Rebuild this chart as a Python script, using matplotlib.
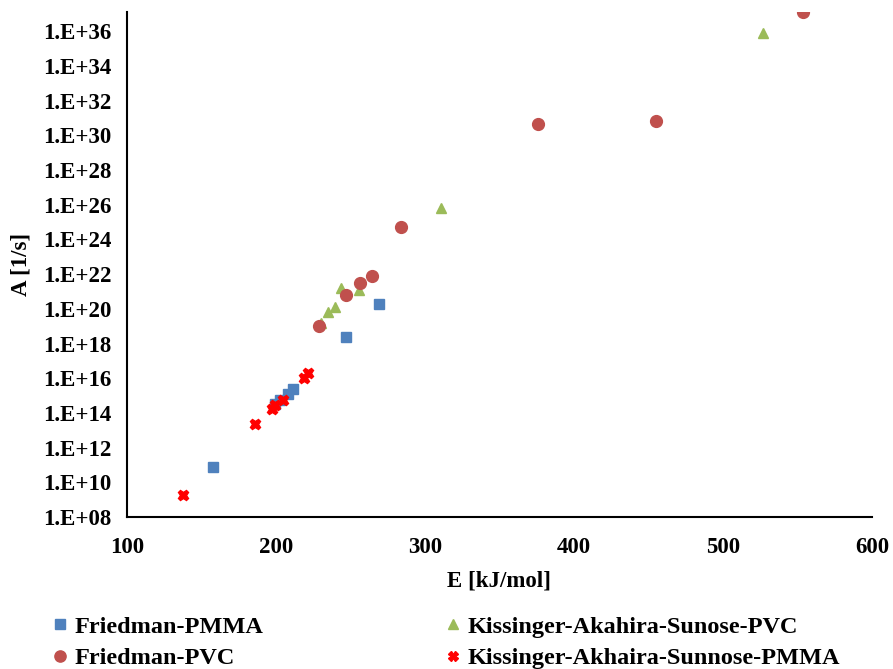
import matplotlib
matplotlib.use("Agg")
import matplotlib.pyplot as plt
from matplotlib.ticker import FixedLocator, FuncFormatter
import numpy as np

# Friedman-PMMA
fr_pmma_E = [157.7, 199.3, 202.7, 208.3, 211.6, 247.4, 269.1]
fr_pmma_logA = [10.87, 14.54, 14.77, 15.10, 15.40, 18.40, 20.30]

# Friedman-PVC
fr_pvc_E = [229.0, 246.8, 256.4, 264.2, 283.9, 375.8, 455.0, 553.7]
fr_pvc_logA = [19.0, 20.8, 21.5, 21.9, 24.7, 30.66, 30.83, 37.09]

# Kissinger-Akahira-Sunose-PVC
kas_pvc_E = [230.6, 235.1, 240.0, 243.6, 255.7, 310.7, 526.8]
kas_pvc_logA = [19.2, 19.8, 20.1, 21.2, 21.1, 25.8, 35.9]

# Kissinger-Akhaira-Sunnose-PMMA
kas_pmma_E = [137.6, 185.9, 197.1, 199.3, 204.5, 218.8, 221.7]
kas_pmma_logA = [9.26, 13.34, 14.25, 14.45, 14.77, 16.0, 16.3]

plt.rcParams['font.family'] = ['Liberation Serif', 'DejaVu Serif']
plt.rcParams['font.weight'] = 'bold'

fig = plt.figure(figsize=(8.93, 6.69), dpi=100)
ax = fig.add_axes([0.142, 0.227, 0.8345, 0.755])

ax.plot(fr_pmma_E, 10 ** np.array(fr_pmma_logA), 's', color='#4F81BD', ms=7.8,
        label='Friedman-PMMA', linestyle='none')
ax.plot(kas_pvc_E, 10 ** np.array(kas_pvc_logA), '^', color='#9BBB59', ms=7.8,
        label='Kissinger-Akahira-Sunose-PVC', linestyle='none')
ax.plot(fr_pvc_E, 10 ** np.array(fr_pvc_logA), 'o', color='#C0504D', ms=8.5,
        label='Friedman-PVC', linestyle='none')
ax.plot(kas_pmma_E, 10 ** np.array(kas_pmma_logA), 'X', color='#FF0000', ms=7.5,
        label='Kissinger-Akhaira-Sunnose-PMMA', linestyle='none')

ax.set_yscale('log')
ax.set_xlim(100, 600)
ax.set_ylim(1e8, 10 ** 37.1)
ax.set_xticks([100, 200, 300, 400, 500, 600])
ax.yaxis.set_major_locator(FixedLocator([10.0 ** k for k in range(8, 37, 2)]))
ax.yaxis.set_minor_locator(FixedLocator([]))
ax.yaxis.set_major_formatter(FuncFormatter(lambda v, p: "1.E+%02d" % round(np.log10(v))))

for side in ['top', 'right']:
    ax.spines[side].set_visible(False)
for side in ['left', 'bottom']:
    ax.spines[side].set_linewidth(1.5)
ax.tick_params(axis='both', length=0, labelsize=16.5)
ax.tick_params(axis='x', pad=14)
ax.tick_params(axis='y', pad=11)
for lbl in ax.get_xticklabels() + ax.get_yticklabels():
    lbl.set_fontweight('bold')

ax.set_xlabel('E [kJ/mol]', fontsize=16.5, fontweight='bold', labelpad=9)
ax.set_ylabel('A [1/s]', fontsize=16.5, fontweight='bold', labelpad=8)

handles, labels = ax.get_legend_handles_labels()
order = [0, 2, 1, 3]
fig.legend([handles[i] for i in order], [labels[i] for i in order],
           loc='lower left', bbox_to_anchor=(0.029, -0.033), ncol=2, frameon=False,
           prop={'weight': 'bold', 'size': 17.5},
           handletextpad=0.1, columnspacing=7.3, handlelength=1.0,
           markerscale=0.95, labelspacing=0.39)

fig.savefig('out.png', dpi=100)
